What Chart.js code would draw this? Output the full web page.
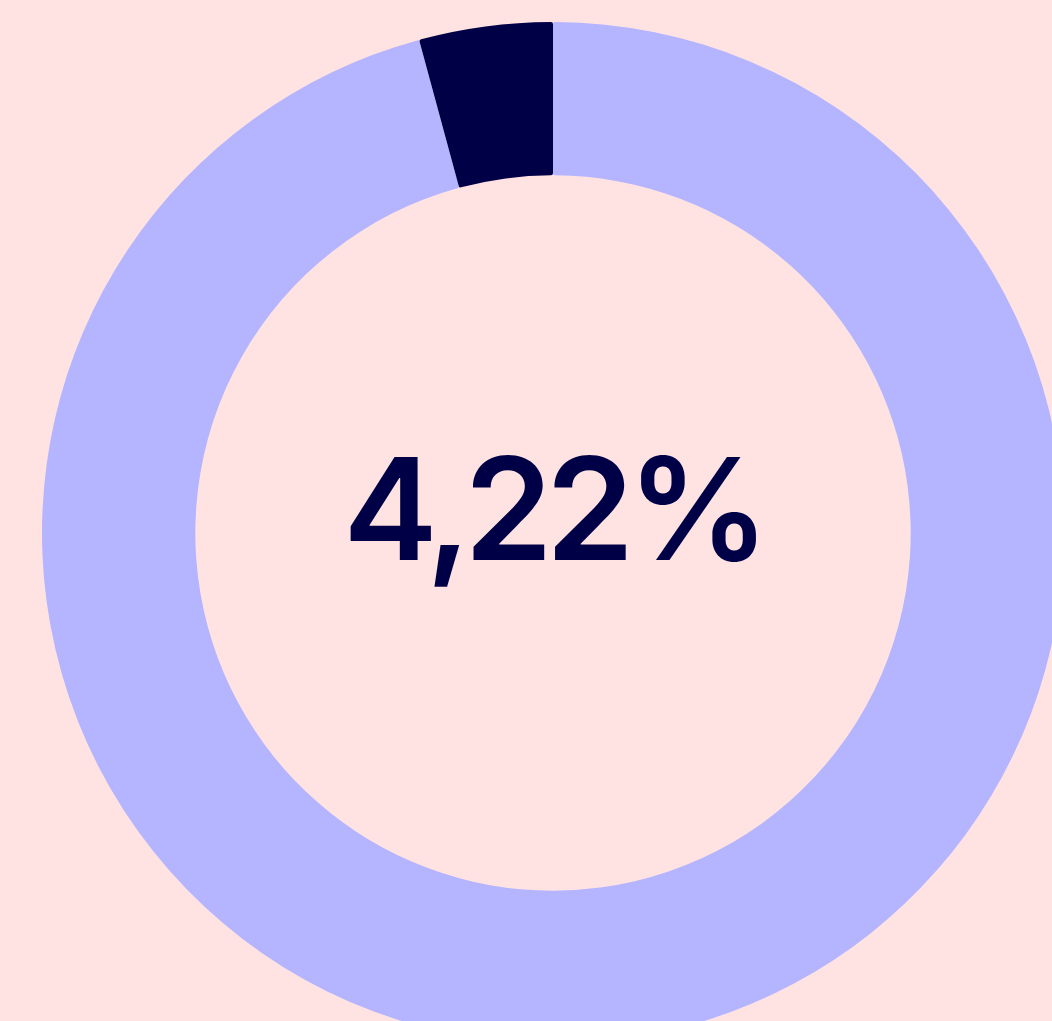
<!DOCTYPE html>
<html>
<head>
<meta charset="utf-8">
<script src="https://cdn.jsdelivr.net/npm/chart.js@4"></script>
<style>
  html, body { margin: 0; padding: 0; background: #FFE2E2; overflow: hidden; width: 1052px; height: 1021px; }
  #wrap { position: absolute; left: 42px; top: 22px; width: 1022px; height: 1022px; }
  #label {
    position: absolute; left: 0; top: 437px; width: 1106px; text-align: center;
    font-family: Inter, "Noto Sans", sans-serif; font-weight: 600; font-size: 142px;
    line-height: 142px; color: #000046; letter-spacing: -7px;
  }
</style>
</head>
<body>
<div id="wrap"><canvas id="myChart" width="1022" height="1022"></canvas></div>
<div id="label"></div>
<script>
var labels = ['Other', 'Share'];
var values = [95.78, 4.22];
var colors = ['#B4B4FF', '#000046'];
var centerText = '4,22%';

document.getElementById('label').textContent = centerText;

var ctx = document.getElementById('myChart').getContext('2d');
var myChart = new Chart(ctx, {
  type: 'doughnut',
  data: {
    labels: labels,
    datasets: [{
      data: values,
      backgroundColor: colors,
      borderWidth: 0,
      borderRadius: 2,
      hoverOffset: 0
    }]
  },
  options: {
    responsive: false,
    animation: false,
    cutout: '70%',
    layout: { padding: 0 },
    plugins: {
      legend: { display: false },
      tooltip: { enabled: false }
    }
  }
});
</script>
</body>
</html>
